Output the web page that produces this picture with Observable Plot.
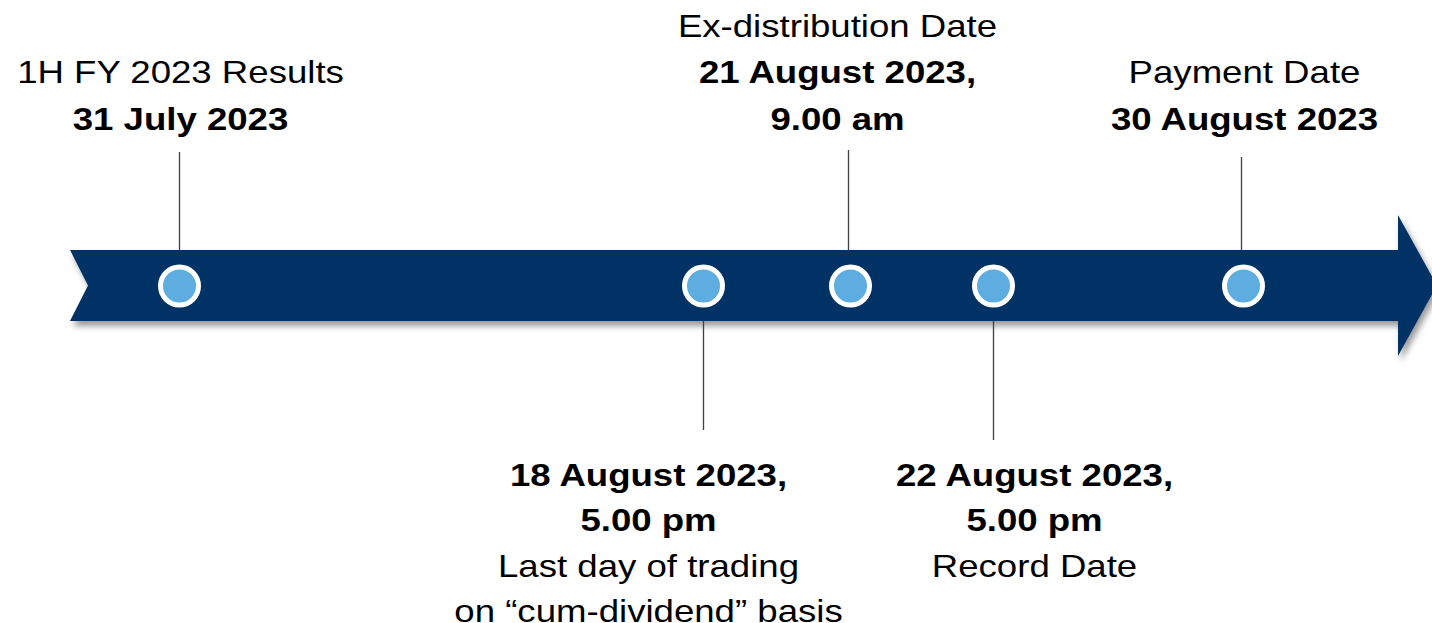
<!DOCTYPE html>
<html><head><meta charset="utf-8">
<script src="https://cdn.jsdelivr.net/npm/d3@7"></script>
<script src="https://cdn.jsdelivr.net/npm/@observablehq/plot@0.6"></script>
<style>html,body{margin:0;padding:0;background:#fff;overflow:hidden}</style>
</head><body><div id="chart"></div>
<script>
// ---- data ----
const eventDates = ["2023-07-31", "2023-08-18", "2023-08-21", "2023-08-22", "2023-08-30"];
const eventTitles = ["1H FY 2023 Results", "Last day of trading\non “cum-dividend” basis", "Ex-distribution Date", "Record Date", "Payment Date"];
const eventDetails = ["31 July 2023", "18 August 2023,\n5.00 pm", "21 August 2023,\n9.00 am", "22 August 2023,\n5.00 pm", "30 August 2023"];
const eventSides = ["top", "bottom", "top", "bottom", "top"];

// ---- layout (schematic timeline, not to scale) ----
const W = 1432, H = 623;
const timelineRange = [179, 703, 850, 993, 1243];
const labelDx = [1, -55, -13, 41, 1];
const ruleDx = [0, 0, -2, 0, -2];
const ruleOuter = [152, 430, 150, 440, 157];
const bodyTop = 250, bodyBottom = 321, bodyMid = 285.5;
const fontSize = 30.5, topStep = 46.5, bottomStep = 45.6;
const topLastBaseline = 129, bottomFirstBaseline = 485;
const FONT = "'Liberation Sans', Arial, Helvetica, sans-serif";

const events = eventDates.map((d, i) => ({
  i, date: new Date(d + "T00:00:00Z"), title: eventTitles[i], detail: eventDetails[i], side: eventSides[i]
}));

// explode label blocks into lines
const lines = [];
for (const e of events) {
  const t = e.title.split("\n").map(s => ({text: s, bold: false}));
  const b = e.detail.split("\n").map(s => ({text: s, bold: true}));
  const block = e.side === "top" ? [...t, ...b] : [...b, ...t];
  const n = block.length;
  block.forEach((l, k) => {
    const baseline = e.side === "top"
      ? topLastBaseline - (n - 1 - k) * topStep
      : bottomFirstBaseline + k * bottomStep;
    lines.push({i: e.i, date: e.date, text: l.text, bold: l.bold, y: baseline - 0.32 * fontSize});
  });
}

const arrowMark = () => {
  const g = d3.create("svg:g");
  const f = g.append("defs").append("filter").attr("id", "shadow")
    .attr("x", "-5%").attr("y", "-30%").attr("width", "110%").attr("height", "170%");
  f.append("feDropShadow").attr("dx", 3).attr("dy", 5).attr("stdDeviation", 3)
    .attr("flood-color", "#000").attr("flood-opacity", 0.4);
  const pts = [[70, bodyTop], [1398, bodyTop], [1398, 215], [1437, bodyMid], [1398, 356],
               [1398, bodyBottom], [70, bodyBottom], [88, bodyMid]];
  g.append("path").attr("d", "M" + pts.join("L") + "Z")
    .attr("fill", "#003366").attr("filter", "url(#shadow)");
  return g.node();
};

const textMarks = events.flatMap(e => [true, false].map(bold =>
  Plot.text(lines.filter(l => l.i === e.i && l.bold === bold), {
    x: "date", y: "y", text: "text", dx: labelDx[e.i],
    fontSize, fontFamily: FONT, fontWeight: bold ? "bold" : "normal",
    fill: "#000", textAnchor: "middle", lineAnchor: "middle"
  })
));

const ruleMarks = events.map(e => Plot.ruleX([e], {
  x: "date",
  y1: d => d.side === "top" ? ruleOuter[d.i] : bodyBottom,
  y2: d => d.side === "top" ? bodyTop : ruleOuter[d.i],
  dx: ruleDx[e.i],
  stroke: "#404040", strokeWidth: 1.3
}));

const chart = Plot.plot({
  width: W, height: H,
  margin: 0,
  style: {background: "#fff", overflow: "visible"},
  x: {type: "utc", domain: events.map(e => e.date), range: timelineRange, axis: null},
  y: {type: "identity", axis: null},
  marks: [
    arrowMark,
    ...ruleMarks,
    Plot.dot(events, {x: "date", y: () => bodyMid, r: 19, fill: "#5DADE0", stroke: "#fff", strokeWidth: 5}),
    ...textMarks
  ]
});

document.getElementById("chart").append(chart);
d3.select(chart).selectAll('g[aria-label="text"] text').each(function () {
  const b = this.getBBox();
  const cx = b.x + b.width / 2;
  const t = this.getAttribute("transform") || "";
  this.setAttribute("transform", `${t} translate(${cx},0) scale(1.2,1) translate(${-cx},0)`);
});
</script>
</body></html>
